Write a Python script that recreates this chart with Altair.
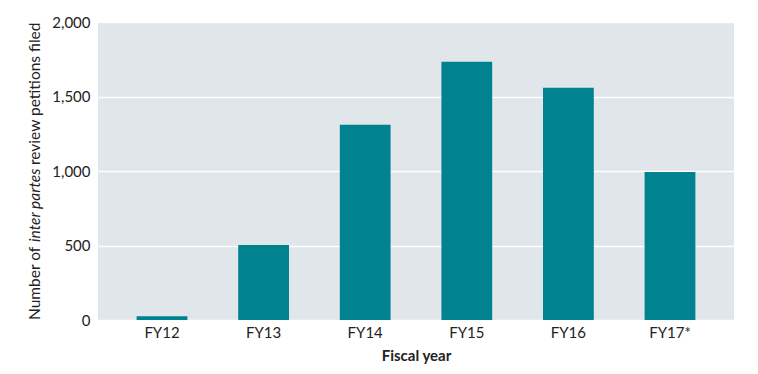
import altair as alt
import pandas as pd

years = ["FY12", "FY13", "FY14", "FY15", "FY16", "FY17*"]
petitions = [25, 503, 1310, 1733, 1558, 994]

df = pd.DataFrame({"year": years, "petitions": petitions})

FONT = "Lato"

bars = alt.Chart(df).mark_bar(color="#00828f").encode(
    x=alt.X("year:N", sort=years,
            scale=alt.Scale(paddingInner=0.5, paddingOuter=0.38),
            axis=alt.Axis(title="Fiscal year", labelAngle=0, ticks=False, domain=False,
                          labelFontSize=15, titleFontSize=15, titleFontWeight="bold",
                          labelPadding=5, titlePadding=8, labelColor="#222", titleColor="#222")),
    y=alt.Y("petitions:Q", scale=alt.Scale(domain=[0, 2000]),
            axis=alt.Axis(title=None, values=[0, 500, 1000, 1500, 2000], format=",.0f",
                          ticks=False, domain=False, labelFontSize=15, labelPadding=8,
                          labelColor="#222", gridColor="white", gridWidth=1.5)),
)

ytitle_parts = ["Number of ", "inter partes", " review petitions filed"]
TS = 15.5
t1 = alt.Chart(pd.DataFrame({"t": [ytitle_parts[0]]})).mark_text(
    angle=270, align="left", baseline="middle", font=FONT, fontSize=TS, color="#222"
).encode(text="t:N", x=alt.value(-63), y=alt.value(298))
t2 = alt.Chart(pd.DataFrame({"t": [ytitle_parts[1]]})).mark_text(
    angle=270, align="left", baseline="middle", font=FONT, fontSize=TS, color="#222",
    fontStyle="italic"
).encode(text="t:N", x=alt.value(-63), y=alt.value(220))
t3 = alt.Chart(pd.DataFrame({"t": [ytitle_parts[2]]})).mark_text(
    angle=270, align="left", baseline="middle", font=FONT, fontSize=TS, color="#222"
).encode(text="t:N", x=alt.value(-63), y=alt.value(143))

chart = alt.layer(bars, t1, t2, t3).properties(
    width=636, height=298, padding={"left": 19, "top": 7, "right": 5, "bottom": 5}
).configure(font=FONT).configure_view(fill="#e1e6ea", stroke=None, strokeWidth=0)

chart.save("out.html", embed_options={"renderer": "svg", "actions": False})
